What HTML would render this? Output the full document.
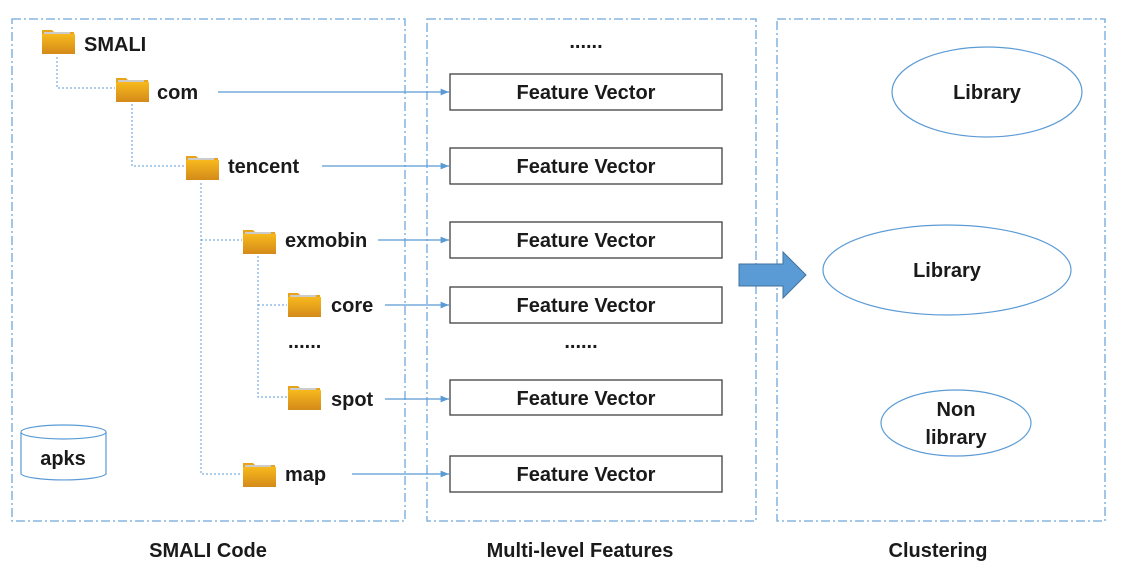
<!DOCTYPE html>
<html><head><meta charset="utf-8"><style>html,body{margin:0;padding:0;background:#fff}svg{display:block}text{font-family:"Liberation Sans",sans-serif;font-weight:bold;fill:#1a1a1a}</style></head>
<body>
<svg width="1131" height="571" viewBox="0 0 1131 571" xmlns="http://www.w3.org/2000/svg">
<defs>
<linearGradient id="fg" x1="0" y1="0" x2="0" y2="1"><stop offset="0" stop-color="#f7b91c"/><stop offset="1" stop-color="#d48a1a"/></linearGradient>
<marker id="ah" viewBox="0 0 10 10" refX="10" refY="5" markerWidth="7" markerHeight="7" orient="auto"><path d="M0,1 L10,5 L0,9 z" fill="#5b9bd5"/></marker>
<symbol id="folder" viewBox="0 0 34 27"><path d="M1,3 h10 l2,2 h20 v21 h-32 z" fill="#e7a31b"/><rect x="3" y="5" width="26" height="3" fill="#ccc"/><rect x="1" y="7" width="33" height="20" fill="url(#fg)"/></symbol>
</defs>
<g fill="none" stroke="#6fa8dc" stroke-width="1.3" stroke-dasharray="9,3,2,3">
<rect x="12" y="19" width="393" height="502"/>
<rect x="427" y="19" width="329" height="502"/>
<rect x="777" y="19" width="328" height="502"/>
</g>
<g fill="none" stroke="#5b9bd5" stroke-width="1" stroke-dasharray="2,2">
<path d="M57,57 V88 H115"/>
<path d="M132,104 V166 H185"/>
<path d="M201,183 V474 H242 M201,240 H242"/>
<path d="M258,256 V397 H287 M258,305 H287"/>
</g>
<use href="#folder" x="41" y="27" width="34" height="27"/>
<use href="#folder" x="115" y="75" width="34" height="27"/>
<use href="#folder" x="185" y="153" width="34" height="27"/>
<use href="#folder" x="242" y="227" width="34" height="27"/>
<use href="#folder" x="287" y="290" width="34" height="27"/>
<use href="#folder" x="287" y="383" width="34" height="27"/>
<use href="#folder" x="242" y="460" width="34" height="27"/>
<g font-size="20">
<text x="84" y="51">SMALI</text>
<text x="157" y="99">com</text>
<text x="228" y="173">tencent</text>
<text x="285" y="247">exmobin</text>
<text x="331" y="312">core</text>
<text x="331" y="406">spot</text>
<text x="285" y="481">map</text>
<text x="288" y="348" font-weight="normal">......</text>
</g>
<g stroke="#5b9bd5" stroke-width="1.2" marker-end="url(#ah)">
<line x1="218" y1="92" x2="449" y2="92"/>
<line x1="322" y1="166" x2="449" y2="166"/>
<line x1="378" y1="240" x2="449" y2="240"/>
<line x1="385" y1="305" x2="449" y2="305"/>
<line x1="385" y1="399" x2="449" y2="399"/>
<line x1="352" y1="474" x2="449" y2="474"/>
</g>
<g fill="#fff" stroke="#404040" stroke-width="1.3">
<rect x="450" y="74" width="272" height="36"/>
<rect x="450" y="148" width="272" height="36"/>
<rect x="450" y="222" width="272" height="36"/>
<rect x="450" y="287" width="272" height="36"/>
<rect x="450" y="380" width="272" height="35"/>
<rect x="450" y="456" width="272" height="36"/>
</g>
<g font-size="20" text-anchor="middle">
<text x="586" y="99">Feature Vector</text>
<text x="586" y="173">Feature Vector</text>
<text x="586" y="247">Feature Vector</text>
<text x="586" y="312">Feature Vector</text>
<text x="586" y="405">Feature Vector</text>
<text x="586" y="481">Feature Vector</text>
<text x="586" y="48" font-weight="normal">......</text>
<text x="581" y="348" font-weight="normal">......</text>
</g>
<path d="M739,264 H783 V252 L806,275 L783,298 V286 H739 z" fill="#5b9bd5" stroke="#41719c" stroke-width="1"/>
<g fill="#fff" stroke="#5b9bd5" stroke-width="1.2">
<ellipse cx="987" cy="92" rx="95" ry="45"/>
<ellipse cx="947" cy="270" rx="124" ry="45"/>
<ellipse cx="956" cy="423" rx="75" ry="33"/>
<path d="M21,432 V474 A43,7 0 0 0 106,474 V432"/>
<ellipse cx="63.5" cy="432" rx="42.5" ry="7"/>
</g>
<g font-size="20" text-anchor="middle">
<text x="987" y="99">Library</text>
<text x="947" y="277">Library</text>
<text x="956" y="416">Non</text>
<text x="956" y="444">library</text>
<text x="63" y="465">apks</text>
</g>
<g font-size="20" text-anchor="middle">
<text x="208" y="557">SMALI Code</text>
<text x="580" y="557">Multi-level Features</text>
<text x="938" y="557">Clustering</text>
</g>
</svg>
</body></html>
